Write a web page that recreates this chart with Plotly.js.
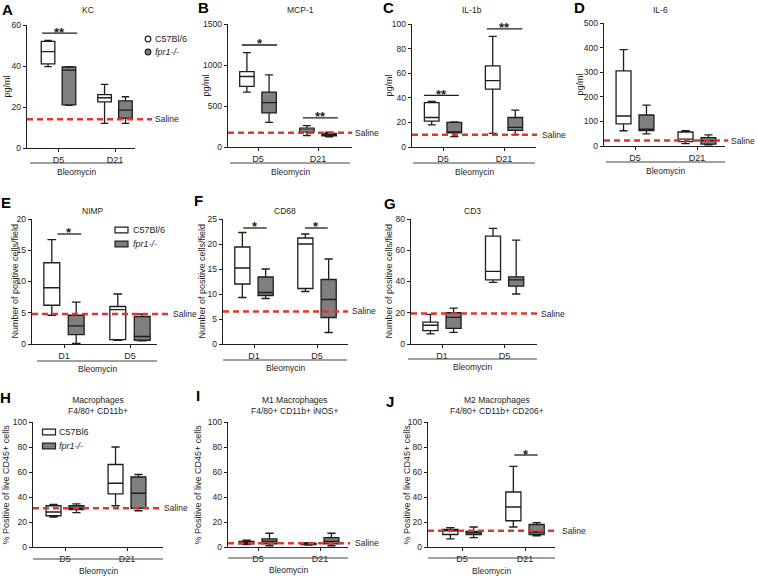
<!DOCTYPE html>
<html><head><meta charset="utf-8">
<script src="https://cdn.plot.ly/plotly-3.0.1.min.js"></script>
<style>html,body{margin:0;padding:0;background:#fff}#chart{width:757px;height:576px}</style>
</head><body><div id="chart"></div>
<script>
// ---------- DATA (box stats per category: [lowerfence, q1, median, q3, upperfence]) ----------
const CATS_D5_D21 = ['D5', 'D21'];
const CATS_D1_D5 = ['D1', 'D5'];
const SERIES = ['C57Bl/6', 'fpr1-/-'];

const KC_C57 = [[39.7, 41, 47, 52, 52.5], [12, 22.5, 24.5, 26, 31]];
const KC_FPR = [[20.8, 21, 38, 39.5, 39.7], [12, 14.5, 18.5, 23, 25]];
const MCP1_C57 = [[670, 740, 860, 920, 1150], [140, 185, 210, 230, 260]];
const MCP1_FPR = [[300, 415, 540, 670, 880], [125, 135, 150, 165, 180]];
const IL1B_C57 = [[18, 21, 24, 36, 37], [11, 47, 54, 66, 90]];
const IL1B_FPR = [[8.5, 11.5, 12, 20, 20.5], [10, 13.5, 16, 24, 30]];
const IL6_C57 = [[62, 90, 122, 305, 392], [10, 18, 28, 57, 62]];
const IL6_FPR = [[49, 63, 68, 126, 166], [5, 8, 22, 34, 45]];
const NIMP_C57 = [[4.6, 6.2, 9, 13, 16.7], [0.6, 0.7, 5.5, 6, 8]];
const NIMP_FPR = [[0.1, 1.5, 2.9, 4.6, 6.7], [0.5, 0.6, 1.2, 4.4, 4.8]];
const CD68_C57 = [[9.3, 12, 15.2, 19.4, 22.3], [10.5, 11.1, 20, 21.2, 22]];
const CD68_FPR = [[9.1, 9.7, 10.3, 13.4, 15], [2.3, 5.3, 8.9, 12.9, 17]];
const CD3_C57 = [[6.5, 8.5, 12, 14, 19], [39.5, 41, 46.5, 69, 74]];
const CD3_FPR = [[7.5, 10, 17, 20, 23], [32, 37, 41, 43, 66.5]];
const MAC_C57 = [[24, 25, 28, 33, 34], [33, 42.5, 51, 66, 80]];
const MAC_FPR = [[27.5, 30, 31, 33, 34.5], [29, 31, 43, 56, 58]];
const M1_C57 = [[2, 2.5, 3.5, 4.5, 5.5], [1.5, 2, 2.5, 3, 3.5]];
const M1_FPR = [[1, 2.5, 4.5, 6.5, 11], [1, 2.5, 4.5, 7.5, 11]];
const M2_C57 = [[6.5, 10, 13, 14, 15.5], [16, 21, 32, 44, 64.5]];
const M2_FPR = [[7.5, 10, 11.5, 12.5, 16], [9, 10, 12, 18, 19.5]];

const SALINE = [14, 175, 10, 22, 4.8, 6.5, 19.5, 31, 3, 13];
const TITLES = ['KC', 'MCP-1', 'IL-1b', 'IL-6', 'NIMP', 'CD68', 'CD3',
  'Macrophages<br>F4/80+ CD11b+', 'M1 Macrophages<br>F4/80+ CD11b+ iNOS+', 'M2 Macrophages<br>F4/80+ CD11b+ CD206+'];
const LETTERS = ['A', 'B', 'C', 'D', 'E', 'F', 'G', 'H', 'I', 'J'];
const YTITLES = ['pg/ml', 'pg/ml', 'pg/ml', 'pg/ml',
  'Number of positive cells/field', 'Number of positive cells/field', 'Number of positive cells/field',
  '% Positive of live CD45+ cells', '% Positive of live CD45+ cells', '% Positive of live CD45+ cells'];
const YMAX = [60, 1500, 100, 500, 20, 25, 80, 100, 100, 100];
const YDTICK = [20, 500, 20, 100, 5, 5, 20, 20, 20, 20];
const XTITLE = 'Bleomycin';

// significance marks
const SIG_PANEL = [0, 1, 1, 2, 2, 4, 5, 5, 9];
const SIG_CAT = [0, 0, 1, 0, 1, 0, 0, 1, 1];
const SIG_Y = [56, 1244, 354, 42, 96, 17.6, 23.2, 23.2, 73.6];
const SIG_STARS = ['**', '*', '**', '**', '**', '*', '*', '*', '*'];

// ---------- LAYOUT GEOMETRY (pixels) ----------
const W = 757, H = 576;
const GEOM = [
  {x0: 27, x1: 135, yT: 25, yB: 148, c0: 58.5, sp: 56.5, sE: 152, sL: 155, ytx: 6, lx: 7, ly: 9, tx: 88, ty: 10, bx0: 30, bx1: 122, bY: 163, bl: 172},
  {x0: 228, x1: 352, yT: 24, yB: 147, c0: 258, sp: 60, sE: 352, sL: 355, ytx: 205, lx: 203, ly: 8, tx: 300, ty: 10, bx0: 230, bx1: 350, bY: 163, bl: 172},
  {x0: 412, x1: 536, yT: 24, yB: 147, c0: 443, sp: 61, sE: 537, sL: 542, ytx: 388, lx: 388, ly: 8, tx: 472, ty: 10, bx0: 413, bx1: 535, bY: 163, bl: 172},
  {x0: 604, x1: 725, yT: 23, yB: 146, c0: 635, sp: 62, sE: 728, sL: 731, ytx: 580, lx: 579, ly: 8, tx: 660, ty: 10, bx0: 606, bx1: 725, bY: 162, bl: 171},
  {x0: 32, x1: 157, yT: 219, yB: 344, c0: 64, sp: 66, sE: 170, sL: 173, ytx: 14, lx: 6, ly: 202, tx: 93, ty: 211, bx0: 37, bx1: 157, bY: 361, bl: 369},
  {x0: 223, x1: 348, yT: 219, yB: 344, c0: 254, sp: 63, sE: 348, sL: 352, ytx: 201, lx: 199, ly: 201, tx: 285, ty: 211, bx0: 223, bx1: 347, bY: 360, bl: 368},
  {x0: 411, x1: 537, yT: 219, yB: 344, c0: 442, sp: 62.6, sE: 538, sL: 541, ytx: 388, lx: 390, ly: 203, tx: 472, ty: 211, bx0: 408, bx1: 537, bY: 359, bl: 367},
  {x0: 33, x1: 163, yT: 422, yB: 547, c0: 65, sp: 62, sE: 161, sL: 164, ytx: 5, lx: 5, ly: 397, tx: 98, ty: 405, bx0: 33, bx1: 163, bY: 559, bl: 571},
  {x0: 228, x1: 348, yT: 422, yB: 547, c0: 258, sp: 62, sE: 350, sL: 355, ytx: 197, lx: 198, ly: 395, tx: 295, ty: 405, bx0: 228, bx1: 348, bY: 558, bl: 570},
  {x0: 428, x1: 555, yT: 422, yB: 547, c0: 462, sp: 63, sE: 558, sL: 562, ytx: 406, lx: 390, ly: 401, tx: 497, ty: 405, bx0: 428, bx1: 555, bY: 558, bl: 571}
];
const SIG_DX = [[-0.29, 0.33], [-0.27, 0.32], [-0.25, 0.33], [-0.31, 0.26], [-0.28, 0.3], [-0.1, 0.26], [-0.17, 0.2], [-0.19, 0.17], [-0.17, 0.2]];

const C57 = [KC_C57, MCP1_C57, IL1B_C57, IL6_C57, NIMP_C57, CD68_C57, CD3_C57, MAC_C57, M1_C57, M2_C57];
const FPR = [KC_FPR, MCP1_FPR, IL1B_FPR, IL6_FPR, NIMP_FPR, CD68_FPR, CD3_FPR, MAC_FPR, M1_FPR, M2_FPR];
const CATS = [CATS_D5_D21, CATS_D5_D21, CATS_D5_D21, CATS_D5_D21, CATS_D1_D5, CATS_D1_D5, CATS_D1_D5, CATS_D5_D21, CATS_D5_D21, CATS_D5_D21];

const FONT = 'Arial, "Liberation Sans", Helvetica, sans-serif';
const INK = '#1e1e1e';
const RED = '#e3342f';
const GREY = '#7f7f7f';
const px = v => v / W;
const py = v => 1 - v / H;

function boxTrace(stats, cats, name, fill, ax, grp) {
  return {
    type: 'box', name: name, x: cats,
    lowerfence: stats.map(s => s[0]), q1: stats.map(s => s[1]), median: stats.map(s => s[2]),
    q3: stats.map(s => s[3]), upperfence: stats.map(s => s[4]),
    fillcolor: fill, line: {color: INK, width: 1.3}, whiskerwidth: 0.55, boxpoints: false,
    xaxis: 'x' + ax, yaxis: 'y' + ax, offsetgroup: grp, showlegend: false, hoverinfo: 'skip'
  };
}

const traces = [];
const layout = {
  width: W, height: H, margin: {l: 0, r: 0, t: 0, b: 0},
  paper_bgcolor: '#fff', plot_bgcolor: 'rgba(0,0,0,0)',
  font: {family: FONT, size: 9, color: INK},
  boxmode: 'group', boxgap: 0.26, boxgroupgap: 0.35,
  showlegend: false, shapes: [], annotations: []
};

for (let k = 0; k < 10; k++) {
  const g = GEOM[k];
  const ax = k === 0 ? '' : String(k + 1);
  traces.push(boxTrace(C57[k], CATS[k], SERIES[0], '#ffffff', ax, 'a'));
  traces.push(boxTrace(FPR[k], CATS[k], SERIES[1], GREY, ax, 'b'));

  layout['xaxis' + ax] = {
    domain: [px(g.x0), px(g.x1)], anchor: 'y' + ax, type: 'category', categoryarray: CATS[k],
    range: [(g.x0 - g.c0) / g.sp, (g.x1 - g.c0) / g.sp],
    showline: true, linecolor: INK, linewidth: 1.3, ticks: 'outside', ticklen: 3, tickwidth: 1, tickcolor: INK,
    tickfont: {size: 9, color: INK}, showgrid: false, zeroline: false, fixedrange: true
  };
  layout['yaxis' + ax] = {
    domain: [py(g.yB), py(g.yT)], anchor: 'x' + ax, range: [0, YMAX[k]], tick0: 0, dtick: YDTICK[k],
    showline: true, linecolor: INK, linewidth: 1.3, ticks: 'outside', ticklen: 3, tickwidth: 1, tickcolor: INK,
    tickfont: {size: 8.5, color: INK}, showgrid: false, zeroline: false, fixedrange: true
  };

  // saline reference line + label
  layout.shapes.push({type: 'line', xref: 'x' + ax + ' domain', yref: 'y' + ax,
    x0: 0, x1: (g.sE - g.x0) / (g.x1 - g.x0), y0: SALINE[k], y1: SALINE[k],
    line: {color: RED, width: 2.5, dash: '6px,4px'}});
  layout.annotations.push({xref: 'paper', yref: 'y' + ax, x: px(g.sL), y: SALINE[k], text: 'Saline',
    xanchor: 'left', yanchor: 'middle', showarrow: false, borderpad: 0, borderwidth: 0, font: {size: 8.5, color: INK}});

  // Bleomycin bracket + label
  layout.shapes.push({type: 'line', xref: 'paper', yref: 'paper', x0: px(g.bx0), x1: px(g.bx1), y0: py(g.bY), y1: py(g.bY),
    line: {color: '#444', width: 1.2}});
  layout.annotations.push({xref: 'paper', yref: 'paper', x: px((g.bx0 + g.bx1) / 2), y: py(g.bl), text: XTITLE,
    xanchor: 'center', yanchor: 'middle', showarrow: false, font: {size: 8.5, color: INK}});

  // y title
  layout.annotations.push({xref: 'paper', yref: 'paper', x: px(g.ytx), y: py((g.yT + g.yB) / 2), text: YTITLES[k],
    textangle: -90, xanchor: 'center', yanchor: 'middle', showarrow: false, font: {size: 9, color: INK}});
  // panel title
  layout.annotations.push({xref: 'paper', yref: 'paper', x: px(g.tx), y: py(g.ty), text: TITLES[k],
    xanchor: 'center', yanchor: 'middle', showarrow: false, font: {size: 8.5, color: INK}});
  // panel letter
  layout.annotations.push({xref: 'paper', yref: 'paper', x: px(g.lx), y: py(g.ly), text: '<b>' + LETTERS[k] + '</b>',
    xanchor: 'center', yanchor: 'middle', showarrow: false, font: {size: 15, color: '#000'}});
}

// significance brackets
for (let i = 0; i < SIG_PANEL.length; i++) {
  const k = SIG_PANEL[i];
  const ax = k === 0 ? '' : String(k + 1);
  const c = SIG_CAT[i];
  layout.shapes.push({type: 'line', xref: 'x' + ax, yref: 'y' + ax,
    x0: c + SIG_DX[i][0], x1: c + SIG_DX[i][1], y0: SIG_Y[i], y1: SIG_Y[i], line: {color: INK, width: 1.3}});
  layout.annotations.push({xref: 'x' + ax, yref: 'y' + ax, x: c + (SIG_DX[i][0] + SIG_DX[i][1]) / 2, y: SIG_Y[i],
    text: '<b>' + SIG_STARS[i] + '</b>', xanchor: 'center', yanchor: 'middle', yshift: 1, showarrow: false,
    font: {size: 13, color: INK}});
}

// legends (drawn manually)
function legendItem(shape, cx, cy, fill, label, tx) {
  if (shape === 'circle') {
    layout.shapes.push({type: 'circle', xref: 'paper', yref: 'paper', x0: px(cx - 2.8), x1: px(cx + 2.8), y0: py(cy + 2.8), y1: py(cy - 2.8),
      fillcolor: fill, line: {color: INK, width: 1.2}});
  } else {
    layout.shapes.push({type: 'rect', xref: 'paper', yref: 'paper', x0: px(cx - 6.5), x1: px(cx + 6.5), y0: py(cy + 2.8), y1: py(cy - 2.8),
      fillcolor: fill, line: {color: INK, width: 1.2}});
  }
  layout.annotations.push({xref: 'paper', yref: 'paper', x: px(tx), y: py(cy), text: label,
    xanchor: 'left', yanchor: 'middle', showarrow: false, font: {size: 9, color: INK}});
}
legendItem('circle', 148, 39, '#ffffff', SERIES[0], 153);
legendItem('circle', 148, 52, GREY, '<i>' + SERIES[1] + '</i>', 153);
legendItem('rect', 121.5, 230, '#ffffff', SERIES[0], 131);
legendItem('rect', 121.5, 244, GREY, '<i>' + SERIES[1] + '</i>', 131);
legendItem('rect', 49, 432, '#ffffff', 'C57Bl6', 57);
legendItem('rect', 49, 446, GREY, '<i>' + SERIES[1] + '</i>', 57);

Plotly.newPlot('chart', traces, layout, {staticPlot: true, displayModeBar: false});
</script>
</body></html>
